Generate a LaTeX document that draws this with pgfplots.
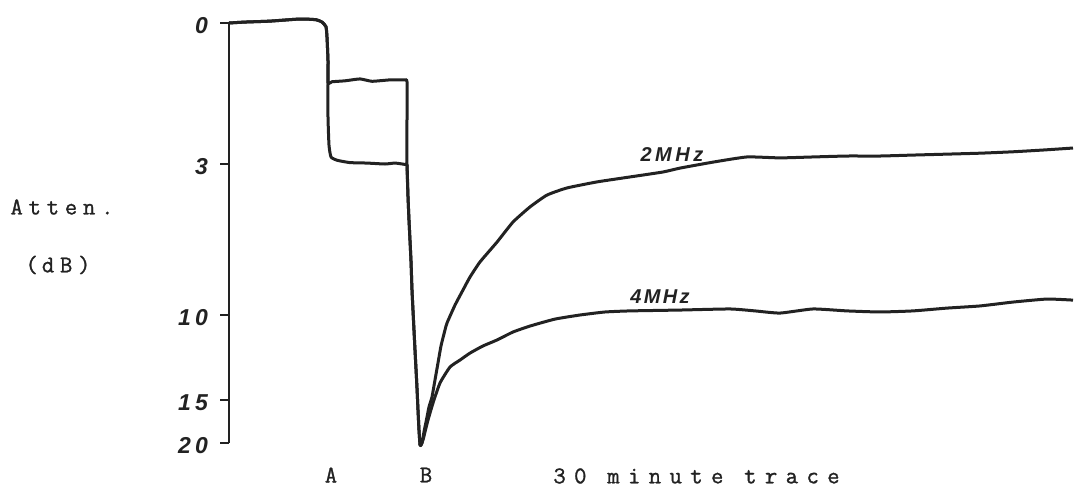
\documentclass[border=0pt]{standalone}
\usepackage{fontspec}
\usepackage{pgfplots}
\pgfplotsset{compat=1.18}
\newfontfamily\tw[LetterSpace=24,FakeBold=1.2]{Latin Modern Mono}
\newfontfamily\twwide[LetterSpace=35,FakeBold=1.2]{Latin Modern Mono}
\newfontfamily\hwfam[LetterSpace=18]{Liberation Sans}
\newfontfamily\hwfamb[LetterSpace=12]{Liberation Sans}
\newcommand{\hw}{\hwfam\bfseries\itshape}
\definecolor{ink}{HTML}{222222}
\pgfplotstableread{
x y
229 0
245 -0.02
270 -0.04
300 -0.085
316 -0.07
322 -0.02
326 0.08
327 0.3
328 0.8
328 1.277
332 1.25
345 1.23
360 1.19
372 1.24
390 1.21
405 1.21
407 1.25
407 2.0
407 3.05
408 4.5
409 5.6
411 7.5
412 8.84
414 10.9
415 12.06
417 14.3
418 16.16
419 18.5
420 20.2
421 20.25
422 20.0
424 18.7
427 16.98
429 15.81
432 14.82
435 13.82
438 12.82
441 11.82
445 10.88
447 10.47
455 9.54
463 8.84
470 8.24
480 7.54
497 6.62
513 5.69
530 4.99
547 4.44
567 4.11
597 3.83
630 3.60
663 3.37
680 3.19
713 2.96
747 2.85
780 2.87
813 2.85
847 2.83
880 2.83
913 2.81
947 2.79
980 2.77
1013 2.74
1045 2.70
1073 2.66
}\twoMHz
\pgfplotstableread{
x y
229 0
245 -0.02
270 -0.04
300 -0.085
316 -0.07
322 -0.02
326 0.08
327 0.3
328 0.8
328 1.277
328 2.0
329 2.6
331 2.85
337 2.92
350 2.97
367 2.98
385 3.0
395 2.98
405 3.02
407 3.05
408 4.5
409 5.6
411 7.5
412 8.84
414 10.9
415 12.06
417 14.3
418 16.16
419 18.5
420 20.2
421 20.25
423 19.65
425 18.72
428 17.33
433 15.35
440 14.0
450 13.06
460 12.65
470 12.24
483 11.82
497 11.47
513 11.0
530 10.65
555 10.24
580 10.0
605 9.86
630 9.81
680 9.77
730 9.72
755 9.81
780 9.91
813 9.72
847 9.81
880 9.86
913 9.81
947 9.68
980 9.58
1013 9.40
1047 9.26
1073 9.31
}\fourMHz
\begin{document}
\begin{tikzpicture}
\path[use as bounding box] (0,0) rectangle (538.5pt,244pt);
\begin{axis}[
  at={(114.5pt,22.5pt)}, anchor=south west,
  scale only axis, width=424pt, height=210pt,
  xmin=229, xmax=1077, ymin=0, ymax=20,
  y dir=reverse,
  y coord trafo/.code={\pgfmathparse{(#1<3)*47*#1 + (1-(#1<3))*(#1<10)*(141+21.5714*(#1-3)) + (1-(#1<10))*(#1<15)*(292+17*(#1-10)) + (1-(#1<15))*(377+8.6*(#1-15))}},
  axis x line=none, axis y line=left,
  y axis line style={-, line width=1.4pt, draw=ink},
  ytick={0,3,10,15,20}, yticklabels={0,3,10,15,20},
  minor tick num=0,
  tick align=outside, major tick length=4.5pt,
  ytick style={line width=1.2pt, draw=ink},
  yticklabel style={font=\hw\fontsize{11.5}{11.5}\selectfont, text=ink, xshift=-2.5pt, yshift=-1.5pt},
  clip=false,
]
\addplot[ink, line width=1.5pt, smooth, tension=0.3, line join=round] table[x=x,y=y] {\fourMHz};
\addplot[ink, line width=1.5pt, smooth, tension=0.3, line join=round] table[x=x,y=y] {\twoMHz};
\end{axis}
\begin{scope}[x=0.5pt,y=-0.5pt,yshift=244pt]
\begin{scope}[every node/.style={font=\tw\fontsize{12}{12}\selectfont, text=ink, inner sep=0pt}]
\node at (62,207) {Atten.};
\node at (58,265) {(\kern2pt dB)};
\node at (331,475) {A};
\node at (426,475) {B};
\node[anchor=west, font=\twwide\fontsize{12}{12}\selectfont] at (553,476) {30 minute trace};
\end{scope}
\begin{scope}[every node/.style={font=\hw\fontsize{10}{10}\selectfont, text=ink, inner sep=0pt}]
\node at (672,155) {2\,MHz};
\node[font=\hwfamb\bfseries\itshape\fontsize{10}{10}\selectfont] at (660,297) {4MHz};
\end{scope}
\end{scope}
\end{tikzpicture}
\end{document}
